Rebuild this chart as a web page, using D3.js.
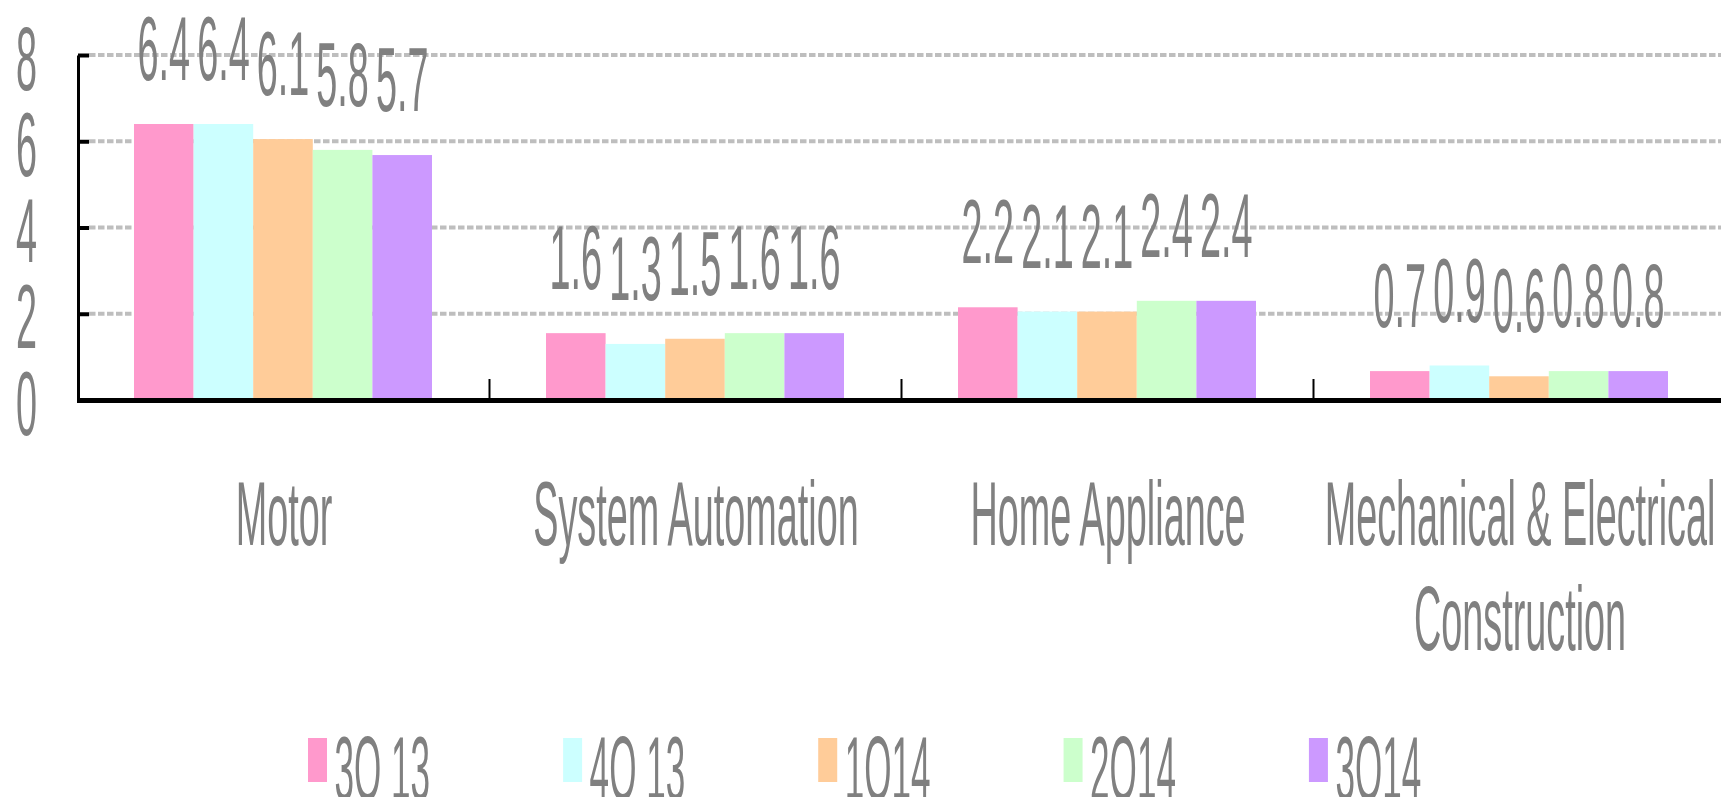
<!DOCTYPE html>
<html><head><meta charset="utf-8">
<script src="https://cdn.jsdelivr.net/npm/d3@7"></script>
<style>html,body{margin:0;padding:0;background:#fff;overflow:hidden}</style>
</head><body>
<svg id="chart" width="1721" height="797"></svg>
<script>
// ---- data ----
const categories = ["Motor", "System Automation", "Home Appliance", "Mechanical & Electrical Construction"];
const seriesNames = ["3Q 13", "4Q 13", "1Q14", "2Q14", "3Q14"];
const values3Q13 = [6.4, 1.55, 2.15, 0.67];
const values4Q13 = [6.4, 1.3, 2.05, 0.8];
const values1Q14 = [6.05, 1.42, 2.05, 0.55];
const values2Q14 = [5.8, 1.55, 2.3, 0.67];
const values3Q14 = [5.68, 1.55, 2.3, 0.67];
const labels3Q13 = ["6.4", "1.6", "2.2", "0.7"];
const labels4Q13 = ["6.4", "1.3", "2.1", "0.9"];
const labels1Q14 = ["6.1", "1.5", "2.1", "0.6"];
const labels2Q14 = ["5.8", "1.6", "2.4", "0.8"];
const labels3Q14 = ["5.7", "1.6", "2.4", "0.8"];
const yTicks = [0, 2, 4, 6, 8];
const colors = ["#FF99CC", "#CCFFFF", "#FFCC99", "#CCFFCC", "#CC99FF"];

const seriesValues = [values3Q13, values4Q13, values1Q14, values2Q14, values3Q14];
const seriesLabels = [labels3Q13, labels4Q13, labels1Q14, labels2Q14, labels3Q14];

// ---- setup ----
const W = 1721, H = 797;
const FONT = "'Liberation Sans', Arial, sans-serif";
const FS = 90, SX = 0.42, LSX = 0.39, TXT = "#808080";
const svg = d3.select("#chart");

const x0 = d3.scaleBand().domain(categories).range([78, 1726]);
const x1 = d3.scaleBand().domain(seriesNames).range([56, 354]);
const y = d3.scaleLinear().domain([0, 8]).range([400, 55]);
const color = d3.scaleOrdinal().domain(seriesNames).range(colors);

function stext(g, str, x, yy, anchor, sx) {
  return g.append("text")
    .attr("transform", `translate(${x},${yy}) scale(${sx || SX},1)`)
    .attr("text-anchor", anchor || "middle")
    .style("font-family", FONT).style("font-size", FS + "px")
    .attr("fill", TXT).text(str);
}

// gridlines
svg.append("g").selectAll("line").data(yTicks.filter(t => t > 0)).join("line")
  .attr("x1", 89).attr("x2", W)
  .attr("y1", d => y(d)).attr("y2", d => y(d))
  .attr("stroke", "#BEBEBE").attr("stroke-width", 4)
  .attr("stroke-dasharray", "6.5,2.5");

// bars
const rows = [];
categories.forEach((c, i) => seriesNames.forEach((s, j) => rows.push({c, s, v: seriesValues[j][i], l: seriesLabels[j][i]})));
svg.append("g").selectAll("rect").data(rows).join("rect")
  .attr("x", d => x0(d.c) + x1(d.s))
  .attr("width", x1.bandwidth())
  .attr("y", d => y(d.v))
  .attr("height", d => y(0) - y(d.v))
  .attr("fill", d => color(d.s));

// value labels
const lg = svg.append("g");
rows.forEach(d => stext(lg, d.l, x0(d.c) + x1(d.s) + x1.bandwidth() / 2, y(d.v) - 44));

// y axis
const ax = svg.append("g").attr("transform", "translate(78,0)")
  .call(d3.axisLeft(y).tickValues(yTicks).tickSize(-11).tickSizeOuter(0));
ax.select(".domain").attr("stroke", "#000").attr("stroke-width", 3);
ax.selectAll(".tick line").attr("stroke", "#000").attr("stroke-width", 4);
ax.selectAll(".tick text")
  .attr("x", null).attr("dy", null)
  .attr("transform", `translate(-41,34) scale(${SX},1)`)
  .attr("text-anchor", "end")
  .attr("fill", TXT)
  .style("font-family", FONT).style("font-size", FS + "px");

// baseline
svg.append("line").attr("x1", 77).attr("x2", W).attr("y1", y(0) + 0.5).attr("y2", y(0) + 0.5)
  .attr("stroke", "#000").attr("stroke-width", 5);

// category separators
svg.append("g").selectAll("line").data(categories.slice(1)).join("line")
  .attr("x1", d => x0(d) - 0.5).attr("x2", d => x0(d) - 0.5)
  .attr("y1", 379).attr("y2", 400)
  .attr("stroke", "#000").attr("stroke-width", 2);

// category labels (wrapped)
const cg = svg.append("g");
categories.forEach(c => {
  const cx = x0(c) + x0.bandwidth() / 2;
  const words = c.split(" ");
  const lines = [];
  let cur = [];
  const probe = stext(cg, "", 0, 0);
  words.forEach(w => {
    const t = cur.concat([w]).join(" ");
    probe.text(t);
    if (probe.node().getComputedTextLength() * SX > x0.bandwidth() - 20 && cur.length) {
      lines.push(cur.join(" "));
      cur = [w];
    } else cur.push(w);
  });
  lines.push(cur.join(" "));
  probe.remove();
  lines.forEach((ln, i) => stext(cg, ln, cx, 545 + i * 105));
});

// legend
const leg = svg.append("g");
let lx = 308;
seriesNames.forEach(s => {
  leg.append("rect").attr("x", lx).attr("y", 738).attr("width", 19).attr("height", 44).attr("fill", color(s));
  const t = stext(leg, s, lx + 26.5, 800, "start", LSX);
  lx += 26.5 + t.node().getComputedTextLength() * LSX + 133;
});
</script>
</body></html>
